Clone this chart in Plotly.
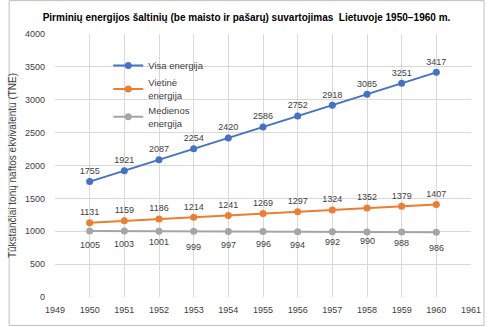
import plotly.graph_objects as go

years = [1950, 1951, 1952, 1953, 1954, 1955, 1956, 1957, 1958, 1959, 1960]
visa = [1755, 1921, 2087, 2254, 2420, 2586, 2752, 2918, 3085, 3251, 3417]
vietine = [1131, 1159, 1186, 1214, 1241, 1269, 1297, 1324, 1352, 1379, 1407]
mediena = [1005, 1003, 1001, 999, 997, 996, 994, 992, 990, 988, 986]
series_names = ["Visa energija", "Vietinė<br>energija", "Medienos<br>energija"]
title_text = "Pirminių energijos šaltinių (be maisto ir pašarų) suvartojimas  Lietuvoje 1950−1960 m."
y_title = "Tūkstančiai tonų naftos ekvivalentu (TNE)"

colors = ["#4472C4", "#ED7D31", "#A5A5A5"]
text_color = "#404040"
label_font = dict(family="Liberation Sans", size=9, color=text_color)
# pixel offsets for the labels under the wood-energy line
wood_label_shift = [-14, -13, -11, -15.5, -14, -12, -13, -10, -9, -11, -16]

fig = go.Figure()
for name, vals, col in [
    (series_names[0], visa, colors[0]),
    (series_names[1], vietine, colors[1]),
]:
    fig.add_trace(go.Scatter(
        x=years, y=vals, name=name, mode="lines+markers+text",
        text=[str(v) for v in vals], textposition="top center", textfont=label_font,
        line=dict(color=col, width=2), marker=dict(color=col, size=7),
    ))

fig.add_trace(go.Scatter(
    x=years, y=mediena, name=series_names[2], mode="lines+markers",
    line=dict(color=colors[2], width=2), marker=dict(color=colors[2], size=7),
))
for x, v, s in zip(years, mediena, wood_label_shift):
    fig.add_annotation(x=x, y=v, text=str(v), showarrow=False, yshift=s,
                       font=label_font)

fig.update_layout(
    width=493, height=327,
    margin=dict(l=48, r=14, t=34, b=29),
    paper_bgcolor="white", plot_bgcolor="white",
    title=dict(text="<b>" + title_text + "</b>", x=0.5, xanchor="center",
               y=0.948, yanchor="middle",
               font=dict(family="Liberation Sans", size=10, color="#000000")),
    showlegend=True,
    legend=dict(x=0.128, y=0.935, xanchor="left", yanchor="top",
                bgcolor="rgba(0,0,0,0)", tracegroupgap=4, itemwidth=30,
                font=dict(family="Liberation Sans", size=9.5, color=text_color)),
    xaxis=dict(range=[1949, 1961], dtick=1, tick0=1949, showgrid=True,
               gridcolor="#D9D9D9", gridwidth=1, zeroline=False,
               showline=False, ticks="", ticklabelstandoff=6,
               tickfont=dict(family="Liberation Sans", size=9, color=text_color)),
    yaxis=dict(range=[0, 4000], dtick=500, showgrid=True, gridcolor="#D9D9D9",
               gridwidth=1, zeroline=False, showline=False, ticks="",
               ticklabelstandoff=9,
               title=dict(text=y_title, standoff=6,
                          font=dict(family="Liberation Sans", size=10, color=text_color)),
               tickfont=dict(family="Liberation Sans", size=9, color=text_color)),
)
# outer frame around the whole chart
fig.add_shape(type="rect", xref="paper", yref="paper",
              x0=-47.5/431, x1=1+13.5/431, y0=-28.5/264, y1=1+33.5/264,
              line=dict(color="#BFBFBF", width=1), layer="above")

fig.write_html("out.html")
